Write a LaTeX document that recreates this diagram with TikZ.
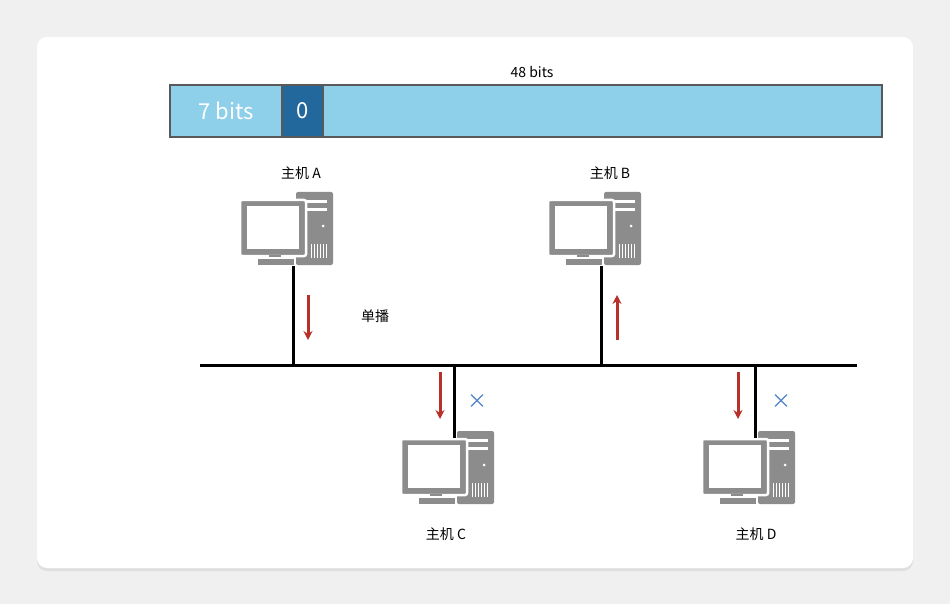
\documentclass[tikz,border=0pt]{standalone}
\usepackage{fontspec}
\setmainfont{Noto Sans CJK SC}
\usetikzlibrary{arrows.meta,shadows}
\definecolor{lb}{HTML}{8ECFEA}
\definecolor{db}{HTML}{23689C}
\definecolor{pcg}{HTML}{8C8C8C}
\definecolor{arr}{HTML}{B8302A}
\definecolor{xb}{HTML}{4A80C8}
\tikzset{
  lbl/.style={font=\fontsize{14}{15}\selectfont},
  wire/.style={line width=3pt,black},
  redarr/.style={arr,line width=3pt,-{Stealth[length=9pt,width=9pt]}},
  pc/.pic={
    \fill[pcg,rounded corners=2pt] (3,-74) rectangle (40,-1);
    \fill[white] (8,-66) rectangle (34,-63);
    \fill[white] (8,-58) rectangle (34,-55);
    \fill[white] (30,-40) circle (1.5);
    \foreach \i in {0,...,5}{\fill[white] (18+\i*3,-22) rectangle (19.3+\i*3,-8);}
    \fill[pcg,draw=white,line width=2.5pt,rounded corners=2pt] (-53,-66) rectangle (13,-10);
    \fill[white] (-46,-60) rectangle (6,-17);
    \fill[pcg] (-24,-11) rectangle (-12,-6);
    \fill[pcg,draw=white,line width=1.5pt] (-36,-8) rectangle (2,0);
  }
}
\begin{document}
\begin{tikzpicture}[x=1pt,y=-1pt]
\fill[gray!12] (0,0) rectangle (950,604);
\useasboundingbox (0,0) rectangle (950,604);
\fill[white,rounded corners=10pt,drop shadow={opacity=0.15,shadow xshift=0pt,shadow yshift=-3pt}] (37,37) rectangle (913,568);
% bar
\draw[fill=lb,draw=gray!70!black,line width=2pt] (170,85) rectangle (882,137);
\draw[fill=db,draw=gray!70!black,line width=2pt] (282,85) rectangle (323,137);
\node[text=white,font=\fontsize{22}{24}\selectfont] (b7) at (226,111) {7 bits};
\node[text=white,font=\fontsize{22}{24}\selectfont] (b0) at (302.5,111) {0};
\node[lbl] (b48) at (532,72) {48 bits};
% bus
\coordinate (busL) at (200,365);
\coordinate (busR) at (857,365);
\draw[wire] (busL) -- (busR);
% hosts
\pic at (293,266) {pc};
\pic at (601,266) {pc};
\pic at (454,505) {pc};
\pic at (755,505) {pc};
\coordinate (pa) at (293,266); \coordinate (ja) at (293,365);
\coordinate (pb) at (601,266); \coordinate (jb) at (601,365);
\coordinate (pcc) at (454,438); \coordinate (jc) at (454,365);
\coordinate (pd) at (755,438); \coordinate (jd) at (755,365);
\draw[wire] (pa) -- (ja);
\draw[wire] (pb) -- (jb);
\draw[wire] (jc) -- (pcc);
\draw[wire] (jd) -- (pd);
\node[lbl] (la) at (301,173) {主机 A};
\node[lbl] (lb) at (610,173) {主机 B};
\node[lbl] (lc) at (446,534) {主机 C};
\node[lbl] (ld) at (756,534) {主机 D};
\node[lbl] (uc) at (375,316) {单播};
% arrows
\coordinate (a1) at (308,295); \coordinate (a2) at (308,340);
\coordinate (b1) at (617,340); \coordinate (b2) at (617,295);
\coordinate (c1) at (440,372); \coordinate (c2) at (440,419);
\coordinate (d1) at (738,372); \coordinate (d2) at (738,419);
\draw[redarr] (a1) -- (a2);
\draw[redarr] (b1) -- (b2);
\draw[redarr] (c1) -- (c2);
\draw[redarr] (d1) -- (d2);
\node[text=xb,font=\fontsize{20}{20}\selectfont] (xc) at (477,402) {×};
\node[text=xb,font=\fontsize{20}{20}\selectfont] (xd) at (781,402) {×};
\end{tikzpicture}
\end{document}
